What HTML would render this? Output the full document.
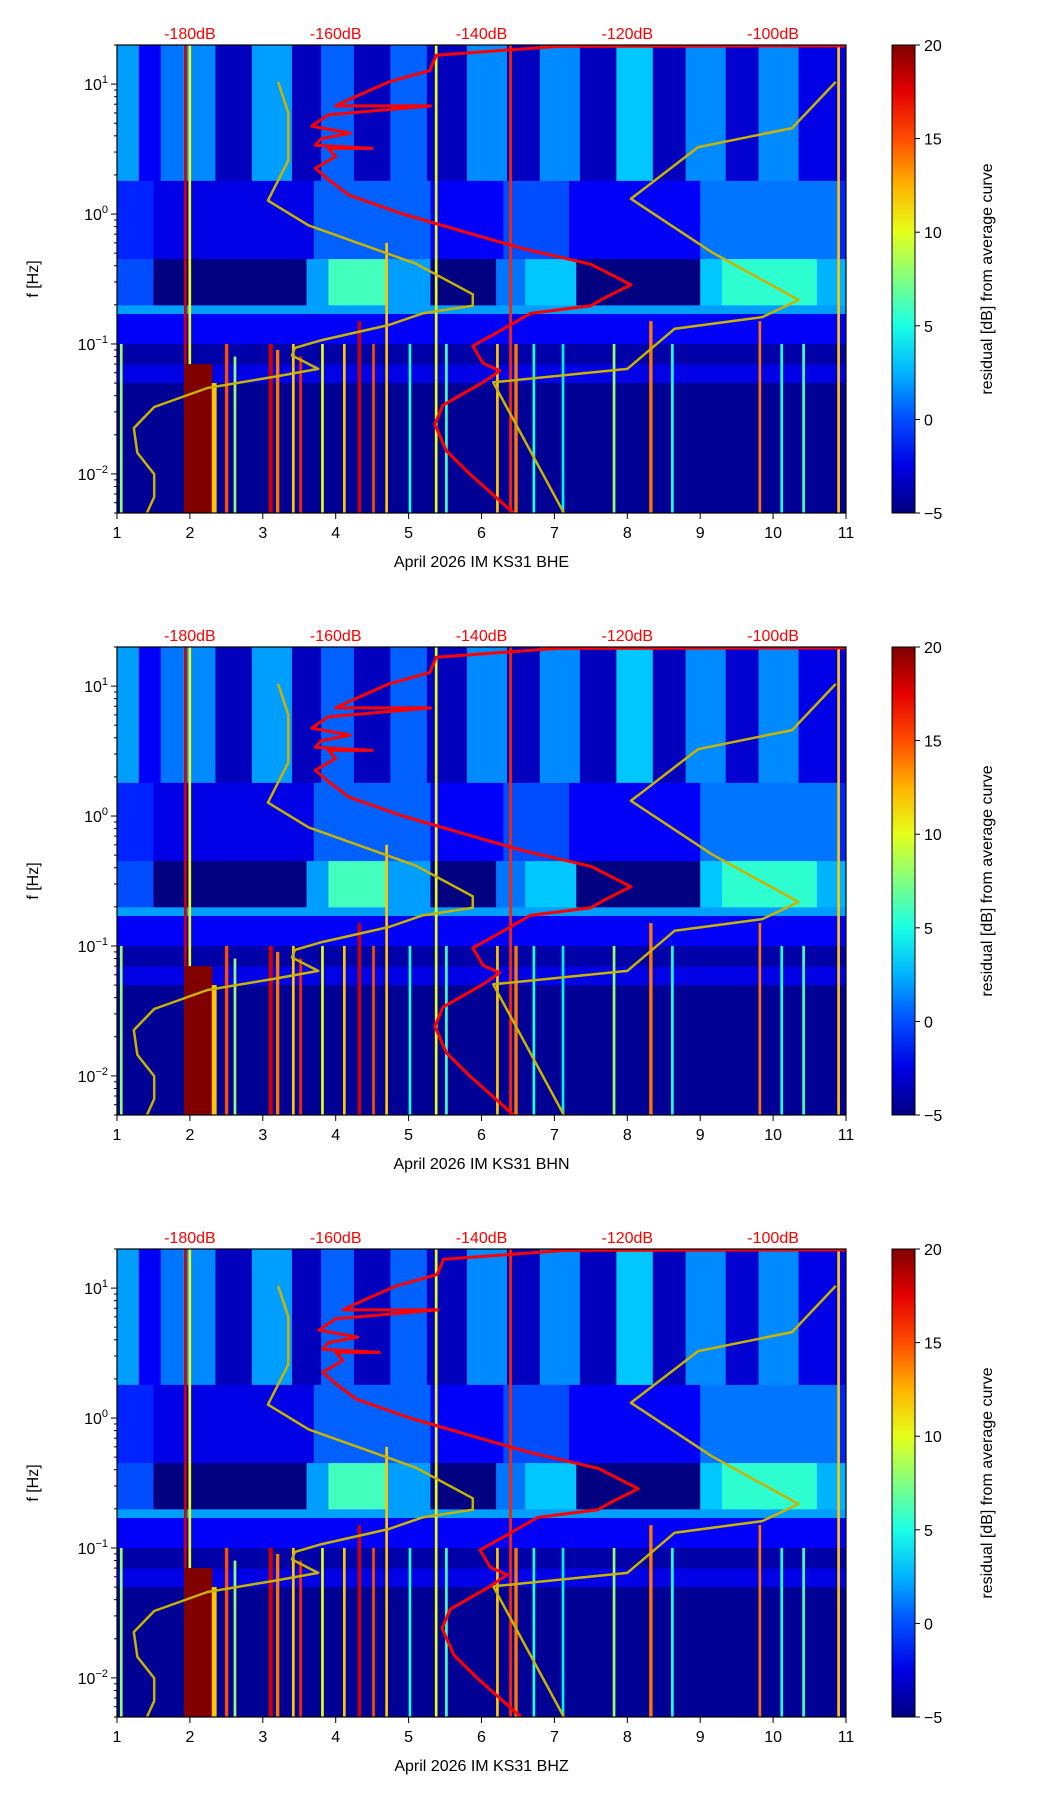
<!DOCTYPE html>
<html><head><meta charset="utf-8"><style>
body{margin:0;background:#fff}
svg{display:block;font-family:"Liberation Sans","DejaVu Sans",sans-serif}
</style></head><body>
<svg id="fig" width="1052" height="1806" viewBox="0 0 1052 1806" xmlns="http://www.w3.org/2000/svg"></svg>
<script>
// ---- data ----
const channels = ["BHE","BHN","BHZ"];
const dbTickLabels = ["-180dB","-160dB","-140dB","-120dB","-100dB"];
const dbTickValues = [-180,-160,-140,-120,-100];
const dayTicks = [1,2,3,4,5,6,7,8,9,10,11];
const cbTicks = [20,15,10,5,0,-5];
// average PSD curve (red)
const redFreq = [19.7,19.5,16.7,12.7,10.4,7.6,6.8,6.8,5.8,4.75,4.2,3.8,3.39,3.2,3.2,2.77,2.25,1.84,1.40,1.0,0.71,0.54,0.41,0.286,0.225,0.197,0.172,0.122,0.0966,0.0711,0.0622,0.0507,0.0338,0.0241,0.0150,0.00998,0.005];
const redDb = [-90,-129.6,-146.2,-147.1,-152.7,-158.2,-160,-147,-161,-163.3,-158,-162,-162.8,-155,-161,-160,-162.8,-161,-158.2,-150.8,-141.6,-134.2,-125,-119.5,-123.2,-125,-133.3,-137.9,-141.2,-139.8,-137.5,-139.8,-145.3,-146.4,-144.8,-141.6,-135.6];
const redShift = [0,0,0.1];
// low noise model (yellow)
const nlnmFreq = [10.4,6.03,2.58,1.27,0.817,0.415,0.241,0.197,0.172,0.140,0.107,0.0933,0.0815,0.0643,0.0561,0.0458,0.0327,0.0225,0.0145,0.00997,0.00664,0.005];
const nlnmDb = [-167.9,-166.5,-166.5,-169.3,-163.7,-149.0,-141.2,-141.2,-148.1,-152.7,-161.9,-165.6,-166.0,-162.4,-168.3,-177.6,-184.9,-187.7,-187.2,-184.9,-184.9,-185.9];
// high noise model (yellow)
const nhnmFreq = [10.4,4.59,3.27,1.31,0.508,0.218,0.161,0.131,0.0643,0.0507,0.005];
const nhnmDb = [-91.4,-97.4,-110.3,-119.5,-108.4,-96.5,-101.5,-113.5,-120.0,-138.4,-128.7];
// residual heatmap segments: [dayStart, dayEnd, value]
const hfSegments = [[1.0,1.3,2],[1.3,1.6,-2],[1.6,1.9,1],[1.9,2.35,1.5],[2.35,2.85,-3.5],[2.85,3.4,2],[3.4,3.8,-3.5],[3.8,4.25,0.5],[4.25,4.75,-3.5],[4.75,5.25,0.5],[5.25,5.8,-3.5],[5.8,6.35,1.5],[6.35,6.8,-3.5],[6.8,7.35,1.5],[7.35,7.85,-3.5],[7.85,8.35,3],[8.35,8.8,-3.5],[8.8,9.35,1.5],[9.35,9.8,-3],[9.8,10.35,1.5],[10.35,11,-2.5]];
const midSegments = [[1,1.5,-1],[1.5,3.7,-2.5],[3.7,5.3,0.5],[5.3,6.3,-2],[6.3,7.2,0],[7.2,9.0,-2],[9.0,10.9,1],[10.9,11,-1]];
const msSegments = [[1,1.5,0],[1.5,3.6,-5],[3.6,3.9,2],[3.9,4.7,6],[4.7,5.3,2],[5.3,6.2,-5],[6.2,6.6,1],[6.6,7.3,3],[7.3,9.0,-5],[9.0,9.3,3],[9.3,10.6,5.5],[10.6,11,2.5]];
// band boundaries in Hz: [fLow, fHigh]
const hfBand=[1.8,20], midBand=[0.45,1.8], msBand=[0.2,0.45];
// horizontal bands: [fLow,fHigh,value]
const flatBands = [[0.17,0.2,2],[0.1,0.17,-2],[0.05,0.07,-2.5],[0.005,0.05,-4.5],[0.07,0.1,-4]];
// streaks / blocks: [dayStart, dayEnd, fLow, fHigh, value]
const streaks = [[1.04,1.07,0.005,0.1,8],[1.92,1.95,0.005,20,18],[1.98,2.01,0.005,20,10],[1.92,2.3,0.005,0.07,20],[2.3,2.36,0.005,0.05,12],[2.48,2.52,0.005,0.1,15],[2.6,2.63,0.005,0.08,8],[3.08,3.13,0.005,0.1,18],[3.18,3.22,0.005,0.09,14],[3.4,3.43,0.005,0.1,12],[3.5,3.53,0.005,0.08,16],[3.8,3.83,0.005,0.1,10],[4.1,4.13,0.005,0.1,12],[4.3,4.34,0.005,0.15,18],[4.5,4.53,0.005,0.1,15],[4.68,4.71,0.005,0.6,12],[5.0,5.03,0.005,0.1,5],[5.5,5.53,0.005,0.1,6],[5.36,5.39,0.005,20,10],[6.2,6.23,0.005,0.1,12],[6.45,6.49,0.005,0.1,14],[6.7,6.73,0.005,0.1,5],[7.1,7.13,0.005,0.1,4],[7.8,7.83,0.005,0.1,8],[8.3,8.34,0.005,0.15,14],[8.6,8.63,0.005,0.1,5],[9.8,9.83,0.005,0.15,14],[10.1,10.13,0.005,0.1,5],[10.4,10.43,0.005,0.1,6],[10.88,10.91,0.005,20,12],[6.38,6.41,0.005,20,16]];

// ---- layout ----
const L=117,R=846,H=468,TOPS=[45,647,1249],CBX=892,CBW=23;
const LMAX=Math.log10(20),LMIN=Math.log10(0.005);
const NS="http://www.w3.org/2000/svg";
const svg=document.getElementById('fig');
function X(day){return L+(day-1)/10*(R-L);}
function Y(f,T){return T+(LMAX-Math.log10(f))/(LMAX-LMIN)*H;}
function dbDay(db){return (db+200)/10;}
function jet(v){let t=(v+5)/25;t=Math.max(0,Math.min(1,t));
 const c=x=>Math.round(255*Math.max(0,Math.min(1,x)));
 return `rgb(${c(1.5-Math.abs(4*t-3))},${c(1.5-Math.abs(4*t-2))},${c(1.5-Math.abs(4*t-1))})`;}
function el(tag,attrs,parent){const e=document.createElementNS(NS,tag);for(const k in attrs)e.setAttribute(k,attrs[k]);(parent||svg).appendChild(e);return e;}

TOPS.forEach((T,pi)=>{
 const g=el('g',{});
 
 
 const clipId='clip'+pi;
 const cp=el('clipPath',{id:clipId},g);el('rect',{x:L,y:T,width:R-L,height:H},cp);
 const hm=el('g',{'clip-path':`url(#${clipId})`},g);
 
 
 function cell(d0,d1,f0,f1,v){const r=el('rect',{x:X(d0),y:Y(f1,T),width:X(d1)-X(d0)+0.5,height:Y(f0,T)-Y(f1,T)+0.5,fill:jet(v)},hm);
  
  }
 flatBands.forEach(b=>cell(1,11,b[0],b[1],b[2]));
 hfSegments.forEach(s=>cell(s[0],s[1],hfBand[0],hfBand[1],s[2]));
 midSegments.forEach(s=>cell(s[0],s[1],midBand[0],midBand[1],s[2]));
 msSegments.forEach(s=>cell(s[0],s[1],msBand[0],msBand[1],s[2]));
 streaks.forEach(s=>cell(s[0],s[1],s[2],s[3],s[4]));
 function line(fs,dbs,color,w,shift,name){
  const p=fs.map((f,i)=>`${X(dbDay(dbs[i])+shift).toFixed(1)},${Y(f,T).toFixed(1)}`).join(' ');
  const pl=el('polyline',{points:p,fill:'none',stroke:color,'stroke-width':w,'stroke-linejoin':'round'},hm);
  
  }
 line(nlnmFreq,nlnmDb,'#c8b400',2.5,0,'low-noise-model-line');
 line(nhnmFreq,nhnmDb,'#c8b400',2.5,0,'high-noise-model-line');
 line(redFreq,redDb,'#ff0000',3,redShift[pi],'average-psd-line');
 el('rect',{x:L,y:T,width:R-L,height:H,fill:'none',stroke:'#000','stroke-width':1.2},g);
 // x ticks
 dayTicks.forEach(d=>{el('line',{x1:X(d),x2:X(d),y1:T+H,y2:T+H+6,stroke:'#000'},g);
  const t=el('text',{x:X(d),y:T+H+25,'text-anchor':'middle','font-size':16},g);t.textContent=d;
  });
 const xl=el('text',{x:(L+R)/2,y:T+H+54,'text-anchor':'middle','font-size':16},g);
 xl.textContent='April 2026 IM KS31  '+channels[pi];
 
 // top dB labels
 dbTickValues.forEach((v,i)=>{const t=el('text',{x:X(dbDay(v)),y:T-6,'text-anchor':'middle','font-size':16,fill:'#ff0000'},g);
  t.textContent=dbTickLabels[i];});
 // y ticks
 for(let e=-3;e<=1;e++){for(let m=1;m<=9;m++){const f=m*Math.pow(10,e);if(f<0.005||f>20)continue;
   const y=Y(f,T);el('line',{x1:L,x2:L-(m==1?6:3),y1:y,y2:y,stroke:'#000'},g);
   if(m==1){const t=el('text',{x:L-9,y:y+6,'text-anchor':'end','font-size':16},g);
    t.innerHTML=`10<tspan dy="-7" font-size="11">${e<0?'\u2212'+(-e):e}</tspan>`;
    }}}
 const yl=el('text',{x:38,y:T+H/2,'text-anchor':'middle','font-size':16,transform:`rotate(-90 38 ${T+H/2})`},g);
 yl.textContent='f [Hz]';
 // colorbar
 const cb=el('g',{},g);
 const gid='cbg'+pi;const lg=el('linearGradient',{id:gid,x1:0,y1:1,x2:0,y2:0},cb);
 for(let i=0;i<=10;i++){el('stop',{offset:i/10,'stop-color':jet(-5+25*i/10)},lg);}
 el('rect',{x:CBX,y:T,width:CBW,height:H,fill:`url(#${gid})`,stroke:'#000','stroke-width':1},cb);
 cbTicks.forEach(v=>{const y=T+(20-v)/25*H;el('line',{x1:CBX+CBW,x2:CBX+CBW+5,y1:y,y2:y,stroke:'#000'},cb);
  const t=el('text',{x:CBX+CBW+9,y:y+6,'font-size':16},cb);t.textContent=v<0?'\u2212'+(-v):v;
  });
 const cl=el('text',{x:992,y:T+H/2,'text-anchor':'middle','font-size':16,transform:`rotate(-90 992 ${T+H/2})`},cb);
 cl.textContent='residual [dB] from average curve';
});
</script>
</body></html>
